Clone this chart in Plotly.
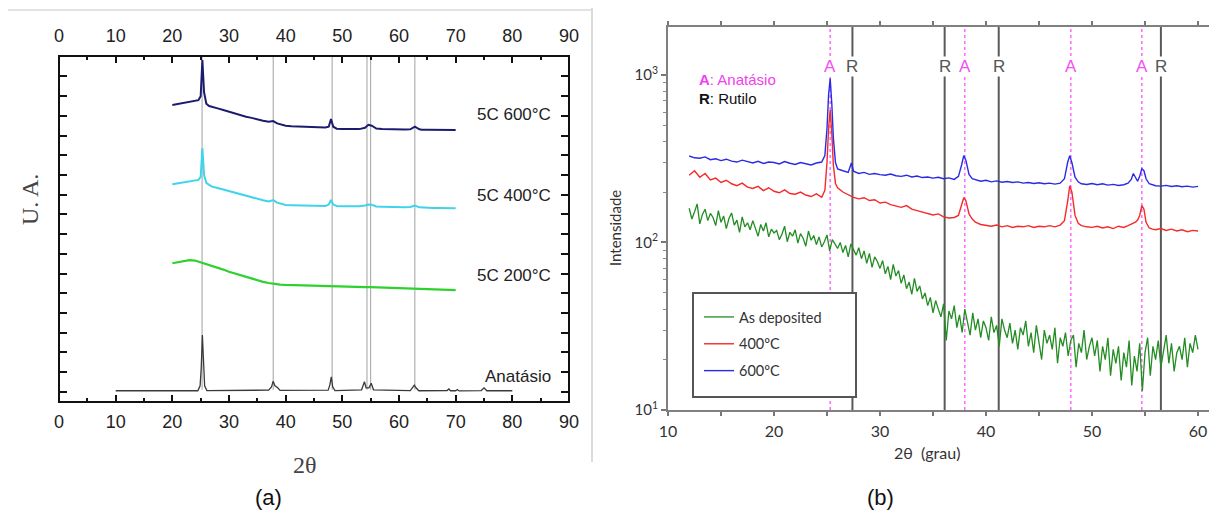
import plotly.graph_objects as go

# ---------------- Panel (a) data (arbitrary units, stacked) ----------------
theta_a = [20, 21, 22, 23, 24,
           24.6, 25.0, 25.3, 25.6, 26.0, 26.5,
           27, 28, 29, 30, 31, 32, 33, 34, 35, 36, 37,
           37.8, 38.5,
           39, 40, 41, 42, 43, 44, 45, 46, 47,
           47.6, 48.0, 48.4,
           49, 50, 51, 52, 53, 54,
           54.6, 55.2,
           56, 57, 58, 59, 60, 61, 62,
           62.8, 63.6,
           64, 65, 66, 67, 68, 69, 70]
ua_600 = [14.55, 14.6, 14.66, 14.7, 14.74,
          14.8, 15.0, 16.84, 15.2, 14.62, 14.5,
          14.45, 14.38, 14.3, 14.21, 14.13, 14.05, 13.96, 13.9, 13.82, 13.75, 13.7,
          13.74, 13.62,
          13.57, 13.5, 13.47, 13.46, 13.45, 13.44, 13.43, 13.42, 13.41,
          13.45, 13.84, 13.45,
          13.35, 13.34, 13.34, 13.33, 13.33, 13.4,
          13.55, 13.5,
          13.36, 13.33, 13.32, 13.32, 13.31, 13.31, 13.32,
          13.45, 13.32,
          13.3, 13.3, 13.29, 13.29, 13.28, 13.28, 13.28]
ua_400 = [10.53, 10.57, 10.62, 10.66, 10.7,
          10.75, 10.9, 12.35, 11.0, 10.6, 10.5,
          10.41, 10.34, 10.26, 10.19, 10.1, 10.02, 9.93, 9.85, 9.78, 9.72, 9.66,
          9.73, 9.6,
          9.55, 9.48, 9.47, 9.46, 9.45, 9.45, 9.44, 9.44, 9.43,
          9.5, 9.73, 9.5,
          9.43, 9.42, 9.41, 9.41, 9.41, 9.45,
          9.5, 9.49,
          9.4, 9.39, 9.38, 9.37, 9.37, 9.37, 9.38,
          9.45, 9.36,
          9.35, 9.34, 9.33, 9.33, 9.32, 9.31, 9.31]
theta_200 = list(range(20, 71))
ua_200 = [6.52, 6.58, 6.63, 6.68, 6.66, 6.57, 6.48, 6.4, 6.3, 6.2,
          6.09, 6.0, 5.92, 5.84, 5.75, 5.66, 5.58, 5.52, 5.47, 5.44,
          5.42, 5.41, 5.41, 5.4, 5.4, 5.39, 5.38, 5.37, 5.36, 5.35,
          5.34, 5.33, 5.32, 5.32, 5.31, 5.31, 5.3, 5.3, 5.29, 5.29,
          5.28, 5.27, 5.27, 5.26, 5.25, 5.24, 5.23, 5.22, 5.2, 5.18, 5.16]
theta_ref = [10, 24.5, 24.9, 25.1, 25.3, 25.5, 25.7, 26.1,
             37.0, 37.5, 37.8, 38.1, 38.6, 39.0,
             47.5, 47.8, 48.05, 48.3, 48.7,
             53.4, 53.7, 53.9, 54.2, 54.7, 55.1, 55.5,
             62.0, 62.5, 62.7, 63.0, 63.5,
             68.5, 68.8, 69.1, 70.0, 70.3, 70.6,
             74.5, 75.0, 75.5, 80]
ua_ref = [0.05, 0.05, 0.3, 1.2, 2.88, 1.0, 0.3, 0.06,
          0.08, 0.25, 0.54, 0.3, 0.2, 0.07,
          0.08, 0.35, 0.76, 0.25, 0.06,
          0.1, 0.35, 0.51, 0.2, 0.2, 0.43, 0.1,
          0.06, 0.22, 0.34, 0.2, 0.05,
          0.06, 0.14, 0.05, 0.05, 0.11, 0.04,
          0.06, 0.2, 0.05, 0.05]
lines_a = [25.25, 37.8, 48.2, 54.35, 55.0, 62.8]
labels_a = ["5C 600°C", "5C 400°C", "5C 200°C", "Anatásio"]
label_a_y = [14.06, 9.98, 5.92, 0.76]
ticks_a = [0, 10, 20, 30, 40, 50, 60, 70, 80, 90]

# ---------------- Panel (b) data (intensity, log scale) ----------------
theta_b = [12, 12.5, 13, 13.5, 14, 14.5, 15, 15.5, 16, 16.5, 17, 17.5, 18, 18.5,
           19, 19.5, 20, 20.5, 21, 21.5, 22, 22.5, 23, 23.5, 24, 24.5,
           24.8, 25.0, 25.15, 25.3, 25.45, 25.6, 25.8, 26.0,
           26.5, 27.0, 27.3, 27.5,
           28, 28.5, 29, 29.5, 30, 30.5, 31, 31.5, 32, 32.5, 33, 33.5, 34, 34.5,
           35, 35.5, 36, 36.5, 37,
           37.4, 37.7, 37.9, 38.1, 38.4, 38.7,
           39, 39.5, 40, 40.5, 41, 41.5, 42, 42.5, 43, 43.5, 44, 44.5, 45, 45.5,
           46, 46.5, 47,
           47.4, 47.7, 47.9, 48.1, 48.4, 48.7,
           49, 49.5, 50, 50.5, 51, 51.5, 52, 52.5, 53,
           53.4, 53.7, 53.9, 54.1, 54.3, 54.5, 54.7, 54.9, 55.1, 55.4, 55.7,
           56, 56.5, 57, 57.5, 58, 58.5, 59, 59.5, 60]
int_600 = [328, 320, 318, 324, 312, 316, 308, 314, 306, 302, 310, 304, 298, 305,
           296, 302, 300, 294, 304, 297, 292, 300, 295, 290, 298, 302,
           330, 480, 760, 950, 680, 420, 300, 275,
           268, 262, 298, 266,
           258, 262, 255, 258, 254, 252, 256, 250, 248, 252, 246, 249, 244, 246,
           242, 245, 240, 243, 238,
           248, 290, 330, 310, 255, 240,
           236, 232, 235, 230, 233, 229, 231, 228, 230, 226, 228, 225, 227, 224,
           226, 223, 226,
           240, 300, 330, 300, 245, 230,
           224, 222, 225, 221, 224, 220, 222, 219, 221,
           226, 238, 258, 245, 232, 248, 275, 268, 240, 224, 220,
           218, 217, 219, 216, 218, 215, 217, 214, 216]
int_400 = [252, 268, 245, 258, 236, 242, 228, 235, 224, 218, 226, 214, 210, 216,
           204, 212, 202, 198, 206, 196, 194, 200, 192, 188, 195, 186,
           205, 300, 480, 620, 450, 290, 225, 212,
           200, 192, 188, 186,
           182, 185, 178, 180, 172, 174, 168, 165, 162, 166, 158, 155, 152, 150,
           146, 148, 142, 140, 141,
           145, 165, 185, 178, 148, 138,
           132, 128, 127, 125, 127, 124, 126, 123, 125, 124, 126, 123, 125, 124,
           126, 124, 127,
           135, 175, 218, 200, 145, 130,
           126, 124, 123, 125, 122, 124, 121, 125, 123,
           126, 128, 130, 132, 136, 145, 166, 158, 132, 122, 120,
           119, 121, 118, 120, 117, 119, 116, 118, 117]
theta_dep = [12 + 0.25 * i for i in range(193)]
int_dep = [160, 138, 152, 170, 129, 147, 158, 135, 149,
           141, 126, 155, 132, 144, 121, 139, 150,
           127, 136, 115, 142, 124, 131, 119, 135,
           122, 109, 128, 117, 131, 108, 120, 114,
           118, 104, 112, 125, 101, 115, 109, 119,
           99, 113, 106, 95, 117, 103, 110, 97,
           108, 94, 101, 111, 89, 104, 98, 92,
           100, 87, 96, 82, 98, 90, 84, 93,
           80, 89, 75, 86, 71, 82, 77, 70,
           78, 65, 72, 60, 74, 63, 68, 57,
           64, 53, 58, 49, 61, 51, 55, 46,
           50, 42, 47, 38, 45, 40, 36, 43,
           26, 39, 35, 42, 31, 37, 29, 40,
           33, 28, 38, 30, 35, 27, 34, 31,
           26, 36, 29, 32, 24, 35, 30, 27,
           33, 25, 30, 23, 31, 28, 34, 24,
           29, 22, 32, 26, 20, 30, 25, 28,
           23, 31, 19, 27, 24, 29, 21, 26,
           28, 18, 25, 22, 30, 20, 24, 27,
           21, 26, 17, 24, 20, 27, 16, 23,
           19, 24, 15, 22, 18, 26, 14, 21,
           17, 25, 13, 22, 27, 16, 24, 20,
           26, 18, 23, 28, 19, 25, 17, 22,
           24, 20, 27, 18, 25, 22, 28, 23]
anatase_b = [25.3, 38.0, 48.0, 54.7]
rutile_b = [27.4, 36.1, 41.2, 56.5]
series_b = ["As deposited", "400ºC", "600ºC"]
ticks_b = [10, 15, 20, 25, 30, 35, 40, 45, 50, 55, 60]
minor_b = [20, 30, 40, 50, 60, 70, 80, 90, 200, 300, 400, 500, 600, 700, 800, 900]

# The page body has an 8 px margin: the figure starts at (8, 8) of the window.
OFF = 8
W, H = 1217 - OFF, 519 - OFF
def px(x): return (x - OFF) / W
def py(y): return 1 - (y - OFF) / H

AFONT = "Liberation Sans, Arial, sans-serif"
BFONT = "Lato, Open Sans, sans-serif"
SERIF = "Liberation Serif, Times New Roman, serif"

fig = go.Figure()

# Panel (a) traces
fig.add_trace(go.Scatter(x=theta_a, y=ua_600, mode="lines", line=dict(color="#1c1c6e", width=2),
                         xaxis="x", yaxis="y", showlegend=False))
fig.add_trace(go.Scatter(x=theta_a, y=ua_400, mode="lines", line=dict(color="#3fd4ea", width=2),
                         xaxis="x", yaxis="y", showlegend=False))
fig.add_trace(go.Scatter(x=theta_200, y=ua_200, mode="lines", line=dict(color="#2ed12e", width=2.2),
                         xaxis="x", yaxis="y", showlegend=False))
fig.add_trace(go.Scatter(x=theta_ref, y=ua_ref, mode="lines", line=dict(color="#3a3a3a", width=1.3),
                         xaxis="x", yaxis="y", showlegend=False))
fig.add_trace(go.Scatter(x=[], y=[], xaxis="x3", yaxis="y", showlegend=False))
fig.add_trace(go.Scatter(x=[], y=[], xaxis="x", yaxis="y3", showlegend=False))

# Panel (b) traces
fig.add_trace(go.Scatter(x=theta_dep, y=int_dep, mode="lines", name=series_b[0],
                         line=dict(color="#238c23", width=1.3), xaxis="x2", yaxis="y2",
                         legendgroup="g1"))
fig.add_trace(go.Scatter(x=theta_b, y=int_400, mode="lines", name=series_b[1],
                         line=dict(color="#f52a2a", width=1.4), xaxis="x2", yaxis="y2",
                         legendgroup="g2"))
fig.add_trace(go.Scatter(x=theta_b, y=int_600, mode="lines", name=series_b[2],
                         line=dict(color="#2a2ae6", width=1.4), xaxis="x2", yaxis="y2",
                         legendgroup="g3"))

shapes = []
for v in lines_a:
    shapes.append(dict(type="line", xref="x", yref="y", x0=v, x1=v, y0=0.1, y1=17.04,
                       line=dict(color="#a0a0a0", width=1), layer="below"))
# frame of panel (a)
shapes.append(dict(type="rect", xref="x domain", yref="y domain", x0=0, x1=1, y0=0, y1=1,
                   line=dict(color="#111", width=2), layer="above"))
for v in anatase_b:
    shapes.append(dict(type="line", xref="x2", yref="y2 domain", x0=v, x1=v, y0=0, y1=1,
                       line=dict(color="#ff66ff", width=1.5, dash="dot"), layer="below"))
for v in rutile_b:
    shapes.append(dict(type="line", xref="x2", yref="y2 domain", x0=v, x1=v, y0=0, y1=1,
                       line=dict(color="#5a5a5a", width=2), layer="below"))
# legend frame of panel (b)
shapes.append(dict(type="rect", xref="paper", yref="paper", x0=px(693), x1=px(856),
                   y0=py(397), y1=py(293), line=dict(color="#555", width=2),
                   fillcolor="white", layer="above"))
# page separators
shapes.append(dict(type="line", xref="paper", yref="paper", x0=px(592), x1=px(592),
                   y0=py(8), y1=py(462), line=dict(color="#cfcfcf", width=1.5)))
shapes.append(dict(type="line", xref="paper", yref="paper", x0=px(8), x1=px(592),
                   y0=py(10), y1=py(10), line=dict(color="#d8d8d8", width=1.5)))

ann = []
for t, yv in zip(labels_a, label_a_y):
    ann.append(dict(x=px(553), y=yv, xref="paper", yref="y", text=t, showarrow=False,
                    xanchor="right", yanchor="middle",
                    font=dict(family=AFONT, size=17, color="#222")))
def pann(x, y, text, size, family, color="#333", angle=0, xanchor="center"):
    ann.append(dict(x=px(x), y=py(y), xref="paper", yref="paper", text=text, textangle=angle,
                    xanchor=xanchor, yanchor="middle", showarrow=False,
                    font=dict(family=family, size=size, color=color)))
pann(30, 200, "U. A.", 24, SERIF, "#444", -90)
pann(305, 465, "2θ", 24, SERIF, "#444")
pann(268, 497, "(a)", 22, AFONT, "#111")
pann(880, 497, "(b)", 22, AFONT, "#111")
pann(615, 228, "Intensidade", 15, BFONT, "#333", -90)
pann(927, 452, "2θ  (grau)", 16, BFONT, "#333")
pann(697, 79, "<b>A</b>: Anatásio", 15, AFONT, "#f040f0", 0, "left")
pann(697, 98, "<b>R</b>: Rutilo", 15, AFONT, "#111", 0, "left")
for v in anatase_b:
    ann.append(dict(x=v, y=3.05, xref="x2", yref="y2", text="A", showarrow=False,
                    xanchor="center", yanchor="middle", bgcolor="white", borderpad=0,
                    font=dict(family=AFONT, size=17, color="#f050f0")))
for v in rutile_b:
    ann.append(dict(x=v, y=3.05, xref="x2", yref="y2", text="R", showarrow=False,
                    xanchor="center", yanchor="middle", bgcolor="white", borderpad=0,
                    font=dict(family=AFONT, size=17, color="#555")))

tick_a = dict(ticks="inside", ticklen=7, tickwidth=2, tickcolor="#111",
              showline=False, showgrid=False, zeroline=False)
minor_a = dict(dtick=5, tick0=0, ticks="inside", ticklen=4, tickwidth=2, tickcolor="#111")
yt_a = dict(range=[-0.52, 17.04], dtick=1, tick0=0, ticks="inside", ticklen=8, tickwidth=2,
            tickcolor="#111", showticklabels=False, showline=False, showgrid=False, zeroline=False)

fig.update_layout(
    width=W, height=H, margin=dict(l=0, r=0, t=0, b=0, autoexpand=False),
    paper_bgcolor="white", plot_bgcolor="rgba(0,0,0,0)",
    showlegend=True,
    xaxis=dict(domain=[px(59), px(569)], range=[0, 90], anchor="y", side="bottom",
               tickvals=ticks_a, minor=minor_a, ticklabelstandoff=7,
               tickfont=dict(family=AFONT, size=18, color="#222"), **tick_a),
    xaxis3=dict(range=[0, 90], overlaying="x", anchor="y", side="top",
                tickvals=ticks_a, minor=minor_a, ticklabelstandoff=9,
                tickfont=dict(family=AFONT, size=18, color="#222"), **tick_a),
    yaxis=dict(domain=[py(402), py(56)], anchor="x", side="left", **yt_a),
    yaxis3=dict(overlaying="y", anchor="x", side="right", **yt_a),
    xaxis2=dict(domain=[px(668), 1.0], range=[10, 10 + (1217 - 668) / 10.6], anchor="y2",
                tickvals=ticks_b, ticktext=["10", "", "20", "", "30", "", "40", "", "50", "", "60"],
                ticks="outside", ticklen=4, tickwidth=1.5, tickcolor="#777",
                showline=True, linecolor="#808080", linewidth=2, mirror="ticks",
                showgrid=False, zeroline=False, ticklabelstandoff=2,
                tickfont=dict(family=BFONT, size=16, color="#333")),
    yaxis2=dict(domain=[py(410), py(27)], type="log", range=[1, 3.286], anchor="x2",
                tickvals=[10, 100, 1000],
                ticktext=["10<sup>1</sup>", "10<sup>2</sup>", "10<sup>3</sup>"],
                ticks="outside", ticklen=5, tickwidth=1.5, tickcolor="#777",
                minor=dict(tickvals=minor_b, ticks="outside", ticklen=3, tickwidth=1, tickcolor="#888"),
                showline=True, linecolor="#808080", linewidth=2,
                showgrid=False, zeroline=False, ticklabelstandoff=0,
                tickfont=dict(family=BFONT, size=15, color="#333")),
    legend=dict(x=px(699), y=py(301), xanchor="left", yanchor="top",
                borderwidth=0, bgcolor="rgba(0,0,0,0)",
                tracegroupgap=5,
                font=dict(family=BFONT, size=14.5, color="#333")),
    shapes=shapes, annotations=ann,
)

fig.write_html("out.html")
